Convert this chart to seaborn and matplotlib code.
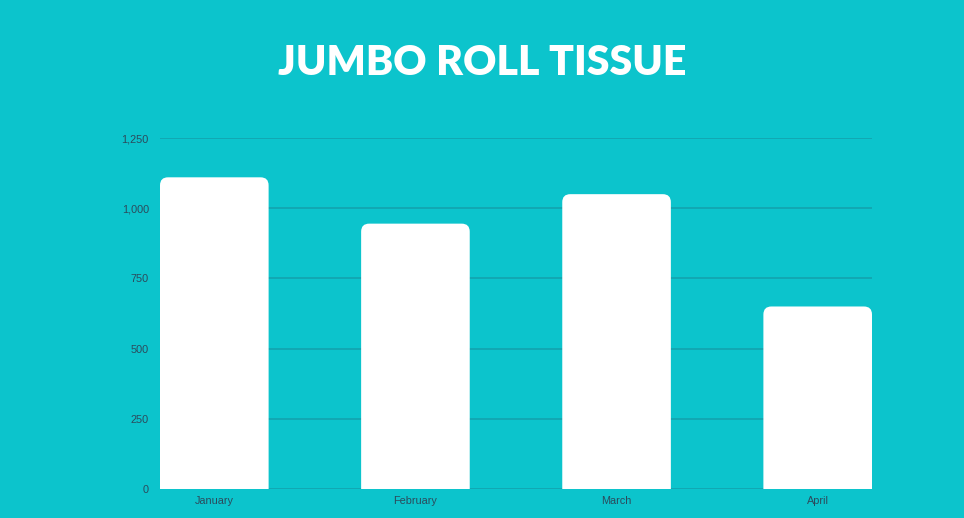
import matplotlib
matplotlib.use("Agg")
import matplotlib.pyplot as plt
from matplotlib.patches import FancyBboxPatch
import seaborn as sns
import pandas as pd

months = ["January", "February", "March", "April"]
values = [1110, 945, 1050, 650]
yticks = [0, 250, 500, 750, 1000, 1250]
title = "JUMBO ROLL TISSUE"

BG = "#0cc4cc"
GRID = "#13a3ae"
TXT = "#2c4a5c"

sns.set_theme(style="white")
plt.rcParams["font.family"] = ["Liberation Sans", "DejaVu Sans"]

df = pd.DataFrame({"month": months, "value": values})

fig = plt.figure(figsize=(9.64, 5.18), dpi=100, facecolor=BG)
ax = fig.add_axes([160 / 964, 29 / 518, 712 / 964, 351 / 518])
ax.set_facecolor(BG)

sns.barplot(data=df, x="month", y="value", color="white", width=0.54,
            saturation=1, ax=ax, zorder=3)

ax.set_xlim(-0.27, 3.27)
ax.set_ylim(0, 1250)

# Round the top corners of the bars
px_x = 712 / 3.54          # pixels per x unit
px_y = 351 / 1250          # pixels per y unit
r_px = 8
aspect = (1 / px_y) / (1 / px_x)
for p in list(ax.patches):
    x, y = p.get_x(), p.get_y()
    w, h = p.get_width(), p.get_height()
    p.remove()
    extra = 40
    fb = FancyBboxPatch((x, y - extra), w, h + extra,
                        boxstyle=f"round,pad=0,rounding_size={r_px / px_x}",
                        mutation_aspect=aspect, facecolor="white",
                        edgecolor="none", zorder=3)
    ax.add_patch(fb)

ax.set_yticks(yticks)
ax.set_yticklabels([f"{v:,}" for v in yticks])
ax.yaxis.grid(True, color=GRID, linewidth=1.2, zorder=0)
ax.set_axisbelow(True)
for s in ax.spines.values():
    s.set_visible(False)
ax.tick_params(axis="both", length=0, colors=TXT, labelsize=7.8)
ax.tick_params(axis="y", pad=8)
ax.tick_params(axis="x", pad=5)
ax.set_xlabel("")
ax.set_ylabel("")

fig.text(482 / 964, 1 - 63 / 518, title, ha="center", va="center",
         color="white", fontsize=29.5, fontweight="heavy",
         family=["Lato", "DejaVu Sans"])

fig.savefig("out.png", dpi=100, facecolor=BG)
